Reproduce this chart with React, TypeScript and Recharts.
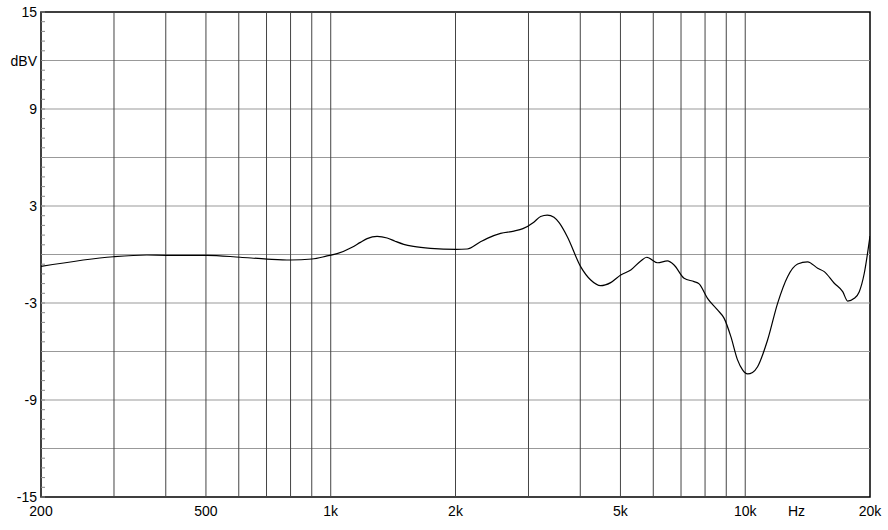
import React from "react";
import {
  LineChart,
  Line,
  XAxis,
  YAxis,
  ReferenceLine,
  ReferenceArea,
} from "recharts";

// frequency response (Hz, dBV)
const freqs = [
  200, 299, 360, 402, 503, 605, 702, 799, 901, 980,
  1036, 1126, 1179, 1224, 1294, 1368, 1430, 1500, 1583, 1740,
  2008, 2134, 2298, 2386, 2569, 2767, 2908, 3090, 3209, 3330,
  3456, 3560, 3722, 4008, 4239, 4480, 4736, 5008, 5295, 5597,
  5788, 6142, 6493, 6736, 7120, 7528, 7740, 8110, 8574, 8896,
  9234, 9582, 9854, 10130, 10414, 10710, 11322, 11970, 12654, 13380,
  14142, 14952, 15510, 16400, 17186, 17668, 18330, 18844, 19374, 20000,
];
const levels = [
  -0.74, -0.14, -0.03, -0.05, -0.05, -0.17, -0.28, -0.34, -0.28, -0.09,
  0.05, 0.45, 0.75, 0.98, 1.12, 1.02, 0.82, 0.63, 0.5, 0.38,
  0.32, 0.34, 0.79, 1.0, 1.31, 1.45, 1.6, 2.0, 2.35, 2.44,
  2.3, 1.95, 1.1, -0.75, -1.58, -1.93, -1.74, -1.27, -0.96, -0.4,
  -0.17, -0.51, -0.4, -0.65, -1.47, -1.68, -1.82, -2.71, -3.43, -3.95,
  -5.08, -6.52, -7.14, -7.39, -7.3, -6.94, -5.29, -3.02, -1.37, -0.59,
  -0.45, -0.85, -1.06, -1.78, -2.3, -2.88, -2.71, -2.3, -1.16, 1.14,
];

const xTicks = [200, 500, 1000, 2000, 5000, 10000, 13300, 20000];
const xLabels = ["200", "500", "1k", "2k", "5k", "10k", "Hz", "20k"];
const xGrid = [300, 400, 500, 600, 700, 800, 900, 1000, 2000, 3000, 4000, 5000, 6000, 7000, 8000, 9000, 10000];
const yGrid = [-12, -9, -6, -3, 0, 3, 6, 9, 12];
const yLabels: Record<string, string> = {
  "15": "15",
  "12": "dBV",
  "9": "9",
  "3": "3",
  "-3": "-3",
  "-9": "-9",
  "-15": "-15",
};
// minor ticks every 0.6 dB along both sides
const yMinor = Array.from({ length: 51 }, (_, i) => Math.round((-15 + i * 0.6) * 10) / 10);

const data = freqs.map((f, i) => ({ f, db: levels[i] }));

const PLOT_LEFT = 41;
const PLOT_RIGHT = 870;
const FONT = "'Liberation Sans', Arial, sans-serif";

const LeftTick = (props: any) => {
  const { y, payload } = props;
  const label = yLabels[String(payload.value)];
  return (
    <g>
      <line x1={PLOT_LEFT} x2={PLOT_LEFT + 4} y1={y} y2={y} stroke="#888" strokeWidth={1} />
      {label && (
        <text
          x={PLOT_LEFT - 4}
          y={y}
          textAnchor="end"
          dominantBaseline="central"
          fontSize={14}
          fontFamily={FONT}
          fill="#000"
        >
          {label}
        </text>
      )}
    </g>
  );
};

const RightTick = (props: any) => {
  const { y } = props;
  return <line x1={PLOT_RIGHT - 4} x2={PLOT_RIGHT} y1={y} y2={y} stroke="#888" strokeWidth={1} />;
};

const BottomTick = (props: any) => {
  const { x, payload } = props;
  const idx = xTicks.indexOf(payload.value);
  return (
    <text
      x={x}
      y={511}
      textAnchor="middle"
      dominantBaseline="central"
      fontSize={14}
      fontFamily={FONT}
      fill="#000"
    >
      {xLabels[idx]}
    </text>
  );
};

export default function App() {
  return (
    <div style={{ width: 888, height: 530, background: "#fff" }}>
      <style>{`body{margin:0;background:#fff}`}</style>
      <LineChart
        width={888}
        height={530}
        data={data}
        margin={{ top: 12, right: 0, bottom: 0, left: 0 }}
      >
        <XAxis
          dataKey="f"
          type="number"
          scale="log"
          domain={[200, 20000]}
          ticks={xTicks}
          allowDataOverflow
          axisLine={false}
          tickLine={false}
          height={33}
          tick={<BottomTick />}
          interval={0}
        />
        <YAxis
          yAxisId="l"
          type="number"
          domain={[-15, 15]}
          ticks={yMinor}
          interval={0}
          axisLine={false}
          tickLine={false}
          width={41}
          tick={<LeftTick />}
        />
        <YAxis
          yAxisId="r"
          orientation="right"
          type="number"
          domain={[-15, 15]}
          ticks={yMinor}
          interval={0}
          axisLine={false}
          tickLine={false}
          width={18}
          tick={<RightTick />}
        />
        {yGrid.map((v) => (
          <ReferenceLine key={"h" + v} yAxisId="l" y={v} stroke="#999" strokeWidth={1} />
        ))}
        {xGrid.map((v) => (
          <ReferenceLine key={"v" + v} yAxisId="l" x={v} stroke="#444" strokeWidth={1} />
        ))}
        <ReferenceArea
          yAxisId="l"
          x1={200}
          x2={20000}
          y1={-15}
          y2={15}
          fill="none"
          fillOpacity={0}
          stroke="#000"
          strokeWidth={1.5}
        />
        <Line
          yAxisId="l"
          dataKey="db"
          type="monotone"
          stroke="#000"
          strokeWidth={1.2}
          dot={false}
          isAnimationActive={false}
        />
      </LineChart>
    </div>
  );
}
